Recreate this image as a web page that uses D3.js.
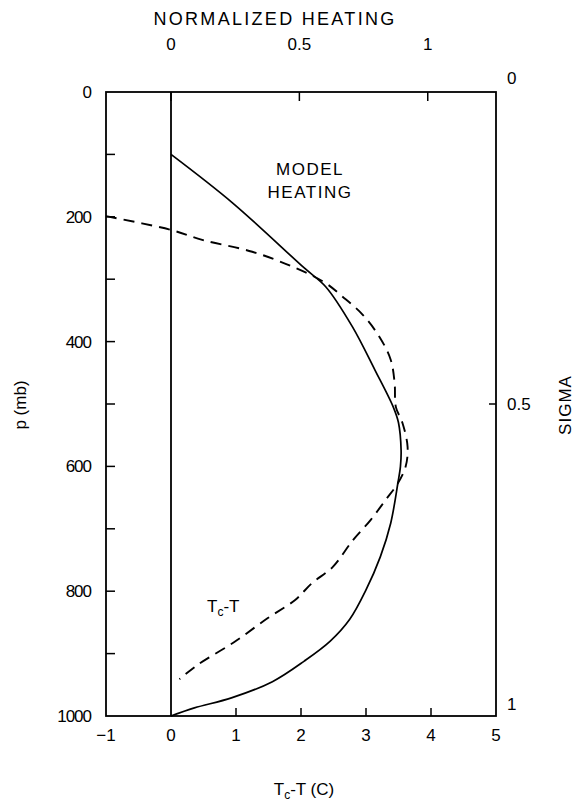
<!DOCTYPE html>
<html>
<head>
<meta charset="utf-8">
<script src="https://cdn.jsdelivr.net/npm/d3@7"></script>
<style>
html,body{margin:0;padding:0;background:#fff;}
svg{display:block;}
text{font-family:"Liberation Sans",Arial,sans-serif;fill:#000;}
</style>
</head>
<body>
<svg id="chart" width="583" height="805"></svg>
<script>
// ---- data (T = Tc-T in C, p in mb) ----
const modelT = [0, 0.95, 2.05, 2.38, 2.79, 3.14, 3.42, 3.50, 3.54, 3.53, 3.49, 3.38, 3.22, 3.00, 2.75, 2.45, 2.05, 1.56, 0.93, 0.36, 0];
const modelP = [100, 178, 282, 312, 376, 446, 505, 530, 574, 600, 627, 691, 745, 798, 845, 880, 912, 945, 971, 987, 1000];
const obsT = [-1, 0, 0.48, 1.25, 1.87, 2.36, 2.64, 2.95, 3.21, 3.38, 3.44, 3.46, 3.56, 3.64, 3.61, 3.49, 3.30, 3.07, 2.80, 2.49, 2.17, 1.91, 1.49, 0.98, 0.41, 0.13];
const obsP = [199, 221, 237, 256, 280, 305, 328, 357, 393, 429, 466, 505, 530, 569, 600, 627, 654, 686, 718, 761, 787, 814, 843, 881, 918, 941];
const bottomTicks = [-1, 0, 1, 2, 3, 4, 5];
const topTicks = [0, 0.5, 1];
const leftLabels = [0, 200, 400, 600, 800, 1000];
const leftTicks = [100, 200, 300, 400, 500, 600, 700, 800, 900];
const sigmaLabels = [0, 0.5, 1];

const svg = d3.select("#chart");
const L = 106, R = 496, T = 92, B = 716;
const x = d3.scaleLinear().domain([-1, 5]).range([L, R]);
const y = d3.scaleLinear().domain([0, 1000]).range([T, B]);
const xn = d3.scaleLinear().domain([0, 1]).range([x(0), x(3.95)]);
const ys = d3.scaleLinear().domain([0, 1]).range([T, B]);

const FS = 17;

// frame
svg.append("rect").attr("x", L).attr("y", T).attr("width", R - L).attr("height", B - T)
  .attr("fill", "none").attr("stroke", "#000").attr("stroke-width", 1.8);
// zero line
svg.append("line").attr("x1", x(0)).attr("x2", x(0)).attr("y1", T).attr("y2", B)
  .attr("stroke", "#000").attr("stroke-width", 1.8);

// left ticks (inward)
svg.selectAll(".lt").data(leftTicks).enter().append("line")
  .attr("x1", L).attr("x2", L + 9).attr("y1", d => y(d)).attr("y2", d => y(d))
  .attr("stroke", "#000").attr("stroke-width", 1.5);
svg.selectAll(".ll").data(leftLabels).enter().append("text")
  .attr("x", 91).attr("y", d => y(d)).attr("dy", "0.35em")
  .attr("text-anchor", "end").attr("font-size", FS).attr("letter-spacing", -1).text(d => d);

// bottom ticks (inward)
svg.selectAll(".bt").data(bottomTicks.filter(d => d > 0 && d < 5)).enter().append("line")
  .attr("x1", d => x(d)).attr("x2", d => x(d)).attr("y1", B).attr("y2", B - 8)
  .attr("stroke", "#000").attr("stroke-width", 1.5);
svg.selectAll(".bl").data(bottomTicks).enter().append("text")
  .attr("x", d => x(d)).attr("y", 741)
  .attr("text-anchor", "middle").attr("font-size", FS).text(d => d < 0 ? "\u2212" + Math.abs(d) : d);

// top ticks (inward)
svg.selectAll(".tt").data(topTicks).enter().append("line")
  .attr("x1", d => xn(d)).attr("x2", d => xn(d)).attr("y1", T).attr("y2", T + 9)
  .attr("stroke", "#000").attr("stroke-width", 1.5);
svg.selectAll(".tl").data(topTicks).enter().append("text")
  .attr("x", d => xn(d)).attr("y", 50)
  .attr("text-anchor", "middle").attr("font-size", FS).text(d => d);

// right sigma axis
svg.selectAll(".st").data(sigmaLabels.filter(d => d > 0 && d < 1)).enter().append("line")
  .attr("x1", R).attr("x2", R - 7).attr("y1", d => ys(d)).attr("y2", d => ys(d))
  .attr("stroke", "#000").attr("stroke-width", 1.5);
svg.selectAll(".sl").data(sigmaLabels).enter().append("text")
  .attr("x", 507)
  .attr("y", d => d === 0 ? ys(d) - 14 : d === 1 ? ys(d) - 12 : ys(d))
  .attr("dy", "0.35em").attr("font-size", FS).text(d => d);

// curves
const line = d3.line().x(d => x(d[0])).y(d => y(d[1])).curve(d3.curveCatmullRom.alpha(0.5));
svg.append("path").datum(d3.zip(modelT, modelP)).attr("d", line)
  .attr("fill", "none").attr("stroke", "#000").attr("stroke-width", 1.7);
svg.append("path").datum(d3.zip(obsT, obsP)).attr("d", line)
  .attr("fill", "none").attr("stroke", "#000").attr("stroke-width", 1.9)
  .attr("stroke-dasharray", "11,7");

// titles
svg.append("text").attr("x", 275).attr("y", 25).attr("text-anchor", "middle")
  .attr("font-size", 18).attr("letter-spacing", 2.3).text("NORMALIZED HEATING");

const bt = svg.append("text").attr("x", 304).attr("y", 795).attr("text-anchor", "middle").attr("font-size", FS);
bt.append("tspan").text("T");
bt.append("tspan").attr("font-size", 12).attr("dy", 4).text("c");
bt.append("tspan").attr("dy", -4).text("-T (C)");

svg.append("text").attr("transform", "translate(26,405) rotate(-90)").attr("text-anchor", "middle")
  .attr("font-size", FS).text("p (mb)");
svg.append("text").attr("transform", "translate(571,405) rotate(-90)").attr("text-anchor", "middle")
  .attr("font-size", FS).attr("letter-spacing", 1).text("SIGMA");

svg.append("text").attr("x", 310).attr("y", 175).attr("text-anchor", "middle")
  .attr("font-size", FS).attr("letter-spacing", 1.5).text("MODEL");
svg.append("text").attr("x", 310).attr("y", 198).attr("text-anchor", "middle")
  .attr("font-size", FS).attr("letter-spacing", 1.5).text("HEATING");

const tl = svg.append("text").attr("x", 207).attr("y", 612).attr("font-size", FS);
tl.append("tspan").text("T");
tl.append("tspan").attr("font-size", 12).attr("dy", 4).text("c");
tl.append("tspan").attr("dy", -4).text("-T");
</script>
</body>
</html>
